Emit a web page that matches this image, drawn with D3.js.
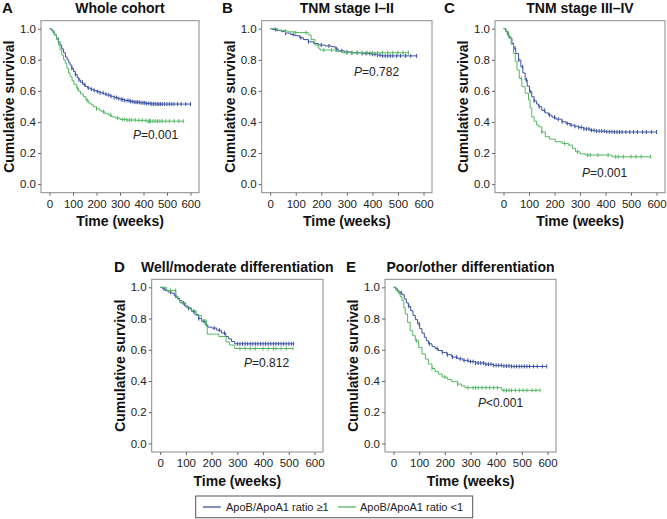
<!DOCTYPE html>
<html><head><meta charset="utf-8">
<script src="https://cdn.jsdelivr.net/npm/d3@7"></script>
<style>body{margin:0;background:#fff;}svg{display:block;font-family:"Liberation Sans",Arial,sans-serif;}</style>
</head><body><svg id="c" width="667" height="519"></svg>
<script>
// ---- data (time in weeks, cumulative survival) ----
const xTicks = [0,100,200,300,400,500,600];
const yTicks = [0,0.2,0.4,0.6,0.8,1.0];
const seriesNames = ["ApoB/ApoA1 ratio \u22651","ApoB/ApoA1 ratio <1"];
const panelTitles = ["Whole cohort","TNM stage I\u2013II","TNM stage III\u2013IV","Well/moderate differentiation","Poor/other differentiation"];
const panelLetters = ["A","B","C","D","E"];
const pLabels = [["=0.001"],["=0.782"],["=0.001"],["=0.812"],["<0.001"]];

const aBlue = [[0,1.0],[8,0.99],[15,0.975],[22,0.96],[30,0.94],[38,0.915],[45,0.895],[52,0.87],[60,0.845],[68,0.818],[75,0.80],[82,0.78],[88,0.766],[95,0.745],[102,0.725],[110,0.705],[118,0.685],[125,0.67],[132,0.656],[142,0.64],[152,0.628],[162,0.618],[175,0.61],[187,0.603],[200,0.595],[215,0.587],[230,0.58],[244,0.573],[260,0.565],[275,0.557],[290,0.55],[305,0.544],[320,0.538],[340,0.532],[360,0.527],[385,0.523],[410,0.519],[430,0.516],[456,0.515],[600,0.515]];
const aBlueCens = [95,110,125,140,150,165,178,190,205,215,228,240,252,262,275,285,295,305,312,320,330,338,345,352,360,368,375,382,390,398,405,412,420,428,435,442,450,458,465,472,480,490,500,510,520,530,545,560,580,600];
const aGreen = [[0,1.0],[10,0.985],[20,0.96],[30,0.93],[38,0.895],[45,0.863],[52,0.83],[60,0.80],[67,0.777],[74,0.745],[81,0.715],[88,0.691],[96,0.665],[104,0.642],[116,0.616],[124,0.598],[132,0.58],[144,0.562],[155,0.54],[165,0.522],[177,0.51],[187,0.498],[200,0.485],[212,0.475],[222,0.466],[235,0.455],[250,0.444],[265,0.433],[280,0.425],[300,0.416],[330,0.412],[370,0.41],[413,0.405],[569,0.405]];
const aGreenCens = [120,160,200,230,260,290,310,320,330,340,350,365,380,395,410,420,425,430,440,450,460,470,480,495,510,530,550,569];

const bBlue = [[0,1.0],[10,0.995],[25,0.988],[44,0.981],[60,0.972],[80,0.963],[96,0.955],[115,0.942],[130,0.93],[149,0.916],[170,0.905],[188,0.895],[215,0.889],[240,0.884],[255,0.87],[266,0.858],[290,0.85],[318,0.845],[360,0.84],[397,0.835],[420,0.83],[436,0.825],[573,0.825]];
const bBlueCens = [20,60,90,120,150,200,230,260,280,300,320,340,360,375,390,400,410,420,430,440,450,460,470,480,495,510,530,550,573];
const bGreen = [[0,1.0],[30,0.99],[55,0.985],[70,0.98],[96,0.975],[149,0.96],[160,0.93],[175,0.895],[188,0.875],[195,0.863],[255,0.855],[280,0.845],[541,0.845]];
const bGreenCens = [60,100,140,210,240,300,320,340,360,380,400,420,440,460,480,500,520,541];

const cBlue = [[0,1.0],[8,0.985],[15,0.96],[22,0.94],[33,0.906],[40,0.875],[48,0.84],[59,0.798],[68,0.755],[76,0.715],[85,0.67],[93,0.63],[102,0.595],[111,0.562],[120,0.535],[130,0.515],[138,0.498],[150,0.475],[163,0.458],[177,0.444],[190,0.43],[205,0.418],[229,0.401],[245,0.39],[260,0.38],[278,0.372],[295,0.365],[315,0.355],[340,0.346],[360,0.341],[400,0.337],[430,0.335],[600,0.335]];
const cBlueCens = [20,45,60,75,90,105,120,140,160,180,200,215,230,250,265,280,295,305,315,325,335,345,355,365,375,385,395,405,415,425,435,445,455,465,480,495,510,525,545,560,580,600];
const cGreen = [[0,1.0],[10,0.98],[20,0.948],[30,0.9],[39,0.841],[46,0.79],[53,0.734],[62,0.68],[72,0.627],[85,0.585],[98,0.541],[104,0.49],[111,0.433],[120,0.405],[130,0.38],[138,0.369],[150,0.335],[164,0.305],[180,0.29],[203,0.273],[230,0.262],[255,0.251],[270,0.23],[282,0.208],[300,0.195],[321,0.187],[426,0.176],[577,0.176]];
const cGreenCens = [70,150,240,290,330,340,370,410,440,450,470,500,520,540,577];

const dBlue = [[0,1.0],[10,0.99],[20,0.98],[30,0.97],[45,0.962],[55,0.945],[65,0.93],[75,0.915],[84,0.9],[95,0.88],[108,0.865],[122,0.846],[135,0.825],[150,0.8],[161,0.782],[175,0.76],[185,0.745],[200,0.739],[220,0.725],[238,0.707],[255,0.685],[265,0.67],[277,0.653],[290,0.638],[519,0.638]];
const dBlueCens = [15,40,60,90,110,130,150,170,210,230,250,300,310,320,330,340,350,360,370,380,390,400,410,420,430,440,450,460,470,480,490,500,510,519];
const dGreen = [[0,1.0],[25,0.98],[61,0.94],[70,0.92],[76,0.9],[100,0.87],[120,0.85],[140,0.82],[160,0.79],[180,0.749],[183,0.70],[228,0.685],[256,0.65],[270,0.63],[290,0.608],[516,0.608]];
const dGreenCens = [40,60,310,330,350,370,400,420,440,450,470,490,516];

const eBlue = [[0,1.0],[8,0.99],[16,0.975],[25,0.965],[33,0.953],[42,0.925],[50,0.9],[58,0.878],[67,0.85],[76,0.82],[85,0.793],[94,0.765],[102,0.735],[111,0.707],[120,0.68],[128,0.658],[136,0.638],[150,0.62],[162,0.607],[175,0.595],[190,0.583],[208,0.568],[227,0.553],[250,0.542],[270,0.532],[292,0.524],[320,0.515],[357,0.507],[390,0.5],[422,0.496],[460,0.493],[597,0.493]];
const eBlueCens = [30,60,100,140,170,190,210,230,245,260,275,290,300,310,320,330,340,350,360,370,380,390,400,410,420,430,440,450,460,470,480,490,500,510,520,530,545,560,580,597];
const eGreen = [[0,1.0],[10,0.98],[19,0.96],[26,0.94],[33,0.915],[40,0.87],[46,0.829],[55,0.775],[65,0.722],[75,0.69],[85,0.658],[98,0.615],[111,0.573],[124,0.54],[136,0.508],[150,0.48],[162,0.46],[175,0.444],[190,0.425],[210,0.41],[227,0.396],[250,0.38],[265,0.368],[279,0.357],[422,0.34],[571,0.34]];
const eGreenCens = [90,150,200,250,290,310,320,330,345,360,375,390,405,430,440,450,460,475,490,505,520,540,555,571];

// ---- layout ----
const BLUE = "#3b52a3", GREEN = "#52b862";
const boxes = [
  {l:41,   r:199, t:20.7,  b:192.7},
  {l:261.7,r:432, t:20.7,  b:192.7},
  {l:495,  r:665, t:20.7,  b:192.7},
  {l:151.7,r:323, t:279.3, b:452},
  {l:385,  r:556, t:279.3, b:452}
];
const pPos = [[133,139],[354,75.5],[582,177],[244,367],[478,407]];
const letterPos = [[2,13],[222,13],[444,13],[114,272],[346,272]];
const panelData = [
  [[aBlue,aBlueCens],[aGreen,aGreenCens]],
  [[bBlue,bBlueCens],[bGreen,bGreenCens]],
  [[cBlue,cBlueCens],[cGreen,cGreenCens]],
  [[dBlue,dBlueCens],[dGreen,dGreenCens]],
  [[eBlue,eBlueCens],[eGreen,eGreenCens]]
];
const colors = [BLUE, GREEN];
const svg = d3.select("#c");

function stepVal(steps, t){ let v = steps[0][1]; for (const p of steps){ if (p[0] <= t) v = p[1]; } return v; }

boxes.forEach((bx, i) => {
  const g = svg.append("g");
  const x = d3.scaleLinear().domain([0,600]).range([bx.l+8.5, bx.r-8.5]);
  const y = d3.scaleLinear().domain([0,1]).range([bx.b-8.6, bx.t+8]);
  g.append("rect").attr("x",bx.l).attr("y",bx.t).attr("width",bx.r-bx.l).attr("height",bx.b-bx.t)
    .attr("fill","none").attr("stroke","#8a8a8a").attr("stroke-width",1);
  const ya = g.append("g").attr("transform",`translate(${bx.l},0)`)
    .call(d3.axisLeft(y).tickValues(yTicks).tickFormat(d3.format(".1f")).tickSize(3).tickPadding(2));
  const xa = g.append("g").attr("transform",`translate(0,${bx.b})`)
    .call(d3.axisBottom(x).tickValues(xTicks).tickFormat(d3.format("d")).tickSize(3).tickPadding(4));
  [ya,xa].forEach(a => { a.select(".domain").remove(); a.selectAll("line").attr("stroke","#666");
    a.selectAll("text").attr("fill","#222").style("font-size","11.5px").style("font-family","Liberation Sans, Arial, sans-serif"); });
  panelData[i].forEach((sd, k) => {
    const line = d3.line().curve(d3.curveStepAfter).x(d=>x(d[0])).y(d=>y(d[1]));
    g.append("path").datum(sd[0]).attr("d",line).attr("fill","none").attr("stroke",colors[k]).attr("stroke-width",1);
    g.selectAll(null).data(sd[1]).enter().append("line")
      .attr("x1",d=>x(d)).attr("x2",d=>x(d))
      .attr("y1",d=>y(stepVal(sd[0],d))-2).attr("y2",d=>y(stepVal(sd[0],d))+2)
      .attr("stroke",colors[k]).attr("stroke-width",1);
  });
  const cx = (bx.l+bx.r)/2;
  g.append("text").attr("x",cx).attr("y",bx.t-7.5).attr("text-anchor","middle")
    .style("font-size","14px").style("font-weight","bold").attr("fill","#111").text(panelTitles[i]);
  g.append("text").attr("x",letterPos[i][0]).attr("y",letterPos[i][1])
    .style("font-size","15px").style("font-weight","bold").attr("fill","#111").text(panelLetters[i]);
  g.append("text").attr("x",cx).attr("y",bx.b+33.5).attr("text-anchor","middle")
    .style("font-size","14px").style("font-weight","bold").attr("fill","#111").text("Time (weeks)");
  const cy = (bx.t+bx.b)/2;
  g.append("text").attr("transform",`translate(${bx.l-27},${cy}) rotate(-90)`).attr("text-anchor","middle")
    .style("font-size","14px").style("font-weight","bold").attr("fill","#111").text("Cumulative survival");
  const pt = g.append("text").attr("x",pPos[i][0]).attr("y",pPos[i][1]).style("font-size","12px").attr("fill","#222");
  pt.append("tspan").style("font-style","italic").text("P");
  pt.append("tspan").text(pLabels[i][0]);
});

const lg = svg.append("g");
lg.append("rect").attr("x",195.7).attr("y",496).attr("width",277).attr("height",21.7)
  .attr("fill","none").attr("stroke","#555").attr("stroke-width",1);
[[203,226],[338,360]].forEach((p,k) => {
  lg.append("line").attr("x1",p[0]).attr("x2",p[0]+17.7).attr("y1",507).attr("y2",507).attr("stroke",colors[k]).attr("stroke-width",1.3);
  lg.append("text").attr("x",p[1]).attr("y",511).style("font-size","11px").attr("fill","#222").text(seriesNames[k]);
});
</script></body></html>
